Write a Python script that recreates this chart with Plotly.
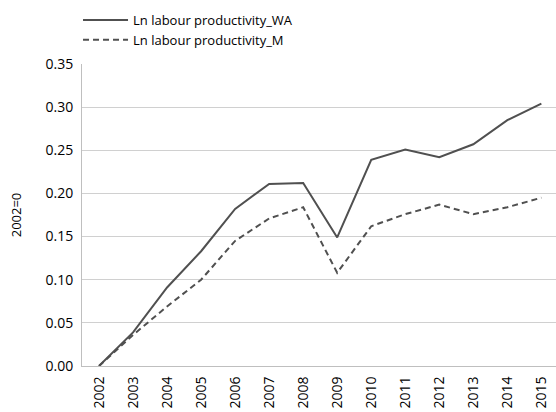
import plotly.graph_objects as go

years = [str(y) for y in range(2002, 2016)]
wa = [0.0, 0.039, 0.091, 0.133, 0.182, 0.211, 0.212, 0.149, 0.239, 0.251, 0.242, 0.257, 0.285, 0.304]
m = [0.0, 0.036, 0.069, 0.100, 0.145, 0.171, 0.184, 0.108, 0.162, 0.176, 0.187, 0.176, 0.184, 0.195]
y_ticks = [0.0, 0.05, 0.10, 0.15, 0.20, 0.25, 0.30, 0.35]

col = "#505050"
fig = go.Figure()
fig.add_trace(go.Scatter(x=years, y=wa, mode="lines", name="Ln labour productivity_WA",
                         line=dict(color=col, width=2)))
fig.add_trace(go.Scatter(x=years, y=m, mode="lines", name="Ln labour productivity_M",
                         line=dict(color=col, width=2, dash="6px,4px")))

fig.update_layout(
    template="none",
    width=556, height=412,
    margin=dict(l=82, r=0, t=64, b=46, autoexpand=False),
    paper_bgcolor="white", plot_bgcolor="white",
    font=dict(family="Open Sans", size=13, color="#000000"),
    showlegend=True,
    legend=dict(x=-0.0084, y=0.988, xanchor="left", yanchor="top", xref="paper", yref="container",
                bgcolor="rgba(0,0,0,0)", borderwidth=0, tracegroupgap=0, itemwidth=45,
                font=dict(size=13)),
    xaxis=dict(type="category", range=[-0.5, 13.43], tickangle=-90, automargin=False,
               tickfont=dict(size=14), ticklabelstandoff=4,
               showgrid=False, showline=True, linecolor="#bfbfbf", linewidth=1,
               ticks="", zeroline=False),
    yaxis=dict(range=[0, 0.35], tickvals=y_ticks, ticktext=[f"{v:.2f}" for v in y_ticks],
               automargin=False, tickfont=dict(size=14), ticklabelstandoff=5,
               showgrid=True, gridcolor="#d0d0d0", gridwidth=1,
               showline=True, linecolor="#bfbfbf", linewidth=1, ticks="", zeroline=False,
               title=dict(text="2002=0", standoff=20, font=dict(size=13))),
)
fig.write_html("out.html", config={"displayModeBar": False},
               post_script="document.body.style.margin='0';document.body.style.overflow='hidden';")
